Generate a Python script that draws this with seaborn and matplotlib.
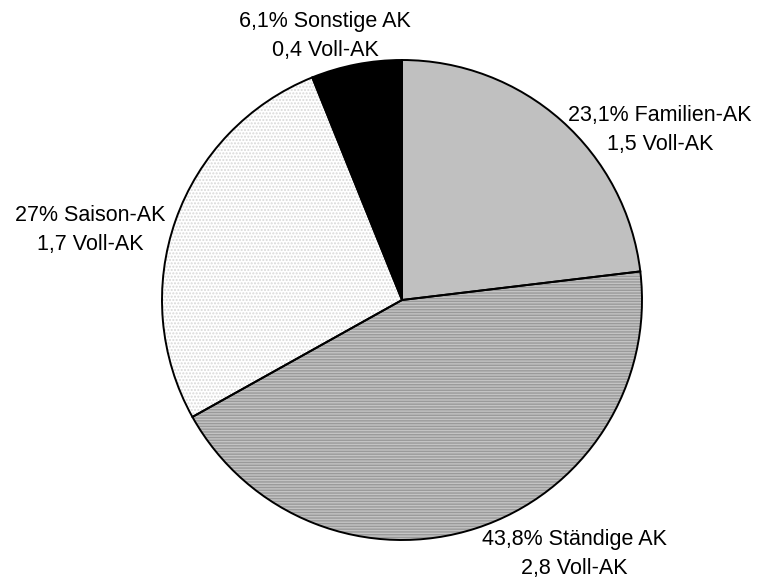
import matplotlib
matplotlib.use('Agg')
import matplotlib.pyplot as plt
import seaborn as sns

sns.set_style('white')
plt.rcParams['font.family'] = ['Liberation Sans', 'DejaVu Sans']

# data
categories = ['Familien-AK', 'Ständige AK', 'Saison-AK', 'Sonstige AK']
shares = [23.1, 43.8, 27.0, 6.1]
share_labels = ['23,1%', '43,8%', '27%', '6,1%']
voll_ak = ['1,5', '2,8', '1,7', '0,4']

face_colors = ['#c0c0c0', '#c4c4c4', '#ffffff', '#000000']
hatches = ['', '------', '.....', '']
hatch_colors = ['#c0c0c0', '#9a9a9a', '#d8d8d8', '#000000']

fig = plt.figure(figsize=(7.6, 5.8), dpi=100)
ax = fig.add_axes([162 / 760, 40 / 580, 480 / 760, 480 / 580])

# filled wedges with hatching
wedges, _ = ax.pie(shares, startangle=90, counterclock=False, radius=1,
                   colors=face_colors,
                   wedgeprops=dict(linewidth=0))
for w, h, hc in zip(wedges, hatches, hatch_colors):
    w.set_hatch(h)
    w.set_edgecolor(hc)
    w.set_linewidth(0)

# outlines on top
outline, _ = ax.pie(shares, startangle=90, counterclock=False, radius=1,
                    wedgeprops=dict(fill=False, edgecolor='black', linewidth=1.4))

ax.set_xlim(-1, 1)
ax.set_ylim(-1, 1)
ax.set_aspect('equal')
ax.axis('off')

# label positions in pixel coords of the figure (x, y from top)
label_pos = [(660, 130), (574, 554), (90, 230), (325, 36)]
for cat, sl, va, (px, py) in zip(categories, share_labels, voll_ak, label_pos):
    fig.text(px / 760, 1 - py / 580, f'{sl} {cat}\n{va} Voll-AK',
             ha='center', va='center', fontsize=15.5, linespacing=1.55,
             color='black')

fig.savefig('out.png', dpi=100, facecolor='white')
